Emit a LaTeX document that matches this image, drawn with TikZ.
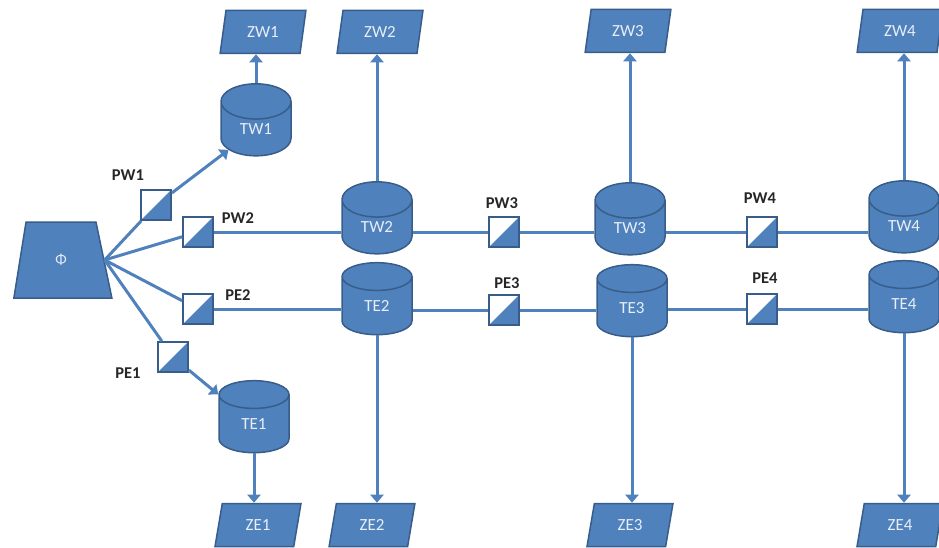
\documentclass[tikz,border=0pt]{standalone}
\usepackage{fontspec}
\setmainfont{Carlito}
\usetikzlibrary{shapes.geometric,arrows.meta}
\definecolor{bfill}{HTML}{4F81BD}
\definecolor{bdraw}{HTML}{385D8A}
\definecolor{btext}{HTML}{E8EEF6}
\begin{document}
\begin{tikzpicture}[x=1pt,y=-1pt,
  shapefont/.style={font=\fontsize{17}{20}\selectfont},
  db/.style={cylinder, shape border rotate=90, aspect=1.1, draw=bdraw, line width=1.5pt,
    fill=bfill, text=btext, minimum width=70pt, minimum height=72pt, inner sep=0pt, shapefont},
  outbox/.style={trapezium, trapezium left angle=77, trapezium right angle=103,
    trapezium stretches=true, draw=bdraw, line width=1.5pt, fill=bfill, text=btext,
    minimum width=86pt, minimum height=43pt, inner sep=0pt, shapefont},
  valve/.style={draw=bdraw, line width=1.8pt, fill=white, minimum size=30pt, inner sep=0pt,
    path picture={\fill[bfill] (path picture bounding box.south west) --
      (path picture bounding box.south east) -- (path picture bounding box.north east) -- cycle;}},
  lbl/.style={font=\bfseries\fontsize{16.5}{19}\selectfont, text=black!85},
  link/.style={draw=bfill, line width=3pt},
  arr/.style={link, -{Triangle[width=13pt,length=8pt]}}
]
\useasboundingbox (0,0) rectangle (939,548);
% source
\node[trapezium, trapezium left angle=80, trapezium right angle=77, trapezium stretches=true,
  draw=bdraw, line width=1.5pt, fill=bfill, text=btext, minimum width=98pt, minimum height=76pt,
  font=\fontsize{15}{18}\selectfont] (phi) at (61,260) {Φ};
% valves
\node[valve] (pw1) at (156,205) {};
\node[valve] (pw2) at (198,232) {};
\node[valve] (pe2) at (198,309) {};
\node[valve] (pe1) at (173,357) {};
\node[valve] (pw3) at (504,232) {};
\node[valve] (pe3) at (504,310) {};
\node[valve] (pw4) at (762,232) {};
\node[valve] (pe4) at (762,309) {};
% labels
\node[lbl] (lpw1) at (128,175) {PW1};
\node[lbl] (lpw2) at (238,218) {PW2};
\node[lbl] (lpe2) at (238,295) {PE2};
\node[lbl] (lpe1) at (128,373) {PE1};
\node[lbl] (lpw3) at (502,203) {PW3};
\node[lbl] (lpe3) at (507,283) {PE3};
\node[lbl] (lpw4) at (760,198) {PW4};
\node[lbl] (lpe4) at (765,278) {PE4};
% tanks
\node[db] (tw1) at (256,129) {TW1};
\node[db] (te1) at (254,424) {TE1};
\node[db] (tw2) at (377,227) {TW2};
\node[db] (te2) at (377,306) {TE2};
\node[db] (tw3) at (630,228) {TW3};
\node[db] (te3) at (632,308) {TE3};
\node[db] (tw4) at (904,226) {TW4};
\node[db] (te4) at (904,304) {TE4};
% outputs
\node[outbox] (zw1) at (263,32) {ZW1};
\node[outbox] (zw2) at (380,32) {ZW2};
\node[outbox] (zw3) at (628,31) {ZW3};
\node[outbox] (zw4) at (900,31) {ZW4};
\node[outbox] (ze1) at (258,525) {ZE1};
\node[outbox] (ze2) at (372,525) {ZE2};
\node[outbox] (ze3) at (630,525) {ZE3};
\node[outbox] (ze4) at (900,525) {ZE4};
% links from source
\draw[link] (phi.east) -- (pw1);
\draw[arr] (pw1) -- (tw1);
\draw[link] (phi.east) -- (pw2);
\draw[link] (phi.east) -- (pe2);
\draw[link] (phi.east) -- (pe1);
\draw[arr] (pe1) -- (te1);
% horizontal rows
\draw[link] (pw2.east) -- (tw2.west |- pw2.east);
\draw[link] (tw2.east |- pw3.west) -- (pw3.west);
\draw[link] (pw3.east) -- (tw3.west |- pw3.east);
\draw[link] (tw3.east |- pw4.west) -- (pw4.west);
\draw[link] (pw4.east) -- (tw4.west |- pw4.east);
\draw[link] (pe2.east) -- (te2.west |- pe2.east);
\draw[link] (te2.east |- pe3.west) -- (pe3.west);
\draw[link] (pe3.east) -- (te3.west |- pe3.east);
\draw[link] (te3.east |- pe4.west) -- (pe4.west);
\draw[link] (pe4.east) -- (te4.west |- pe4.east);
% vertical arrows
\draw[arr] (tw1.north) -- (tw1.north |- zw1.south);
\draw[arr] (tw2.north) -- (tw2.north |- zw2.south);
\draw[arr] (tw3.north) -- (tw3.north |- zw3.south);
\draw[arr] (tw4.north) -- (tw4.north |- zw4.south);
\draw[arr] (te1.south) -- (te1.south |- ze1.north);
\draw[arr] (te2.south) -- (te2.south |- ze2.north);
\draw[arr] (te3.south) -- (te3.south |- ze3.north);
\draw[arr] (te4.south) -- (te4.south |- ze4.north);
\end{tikzpicture}
\end{document}
